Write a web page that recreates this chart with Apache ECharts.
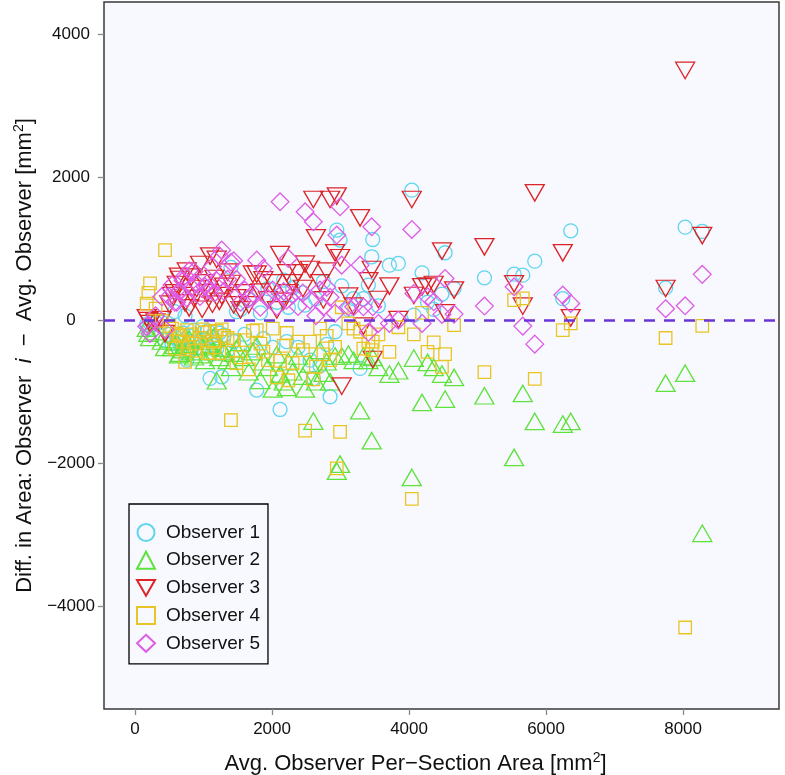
<!DOCTYPE html>
<html>
<head>
<meta charset="utf-8">
<script src="https://cdn.jsdelivr.net/npm/echarts@6/dist/echarts.min.js"></script>
<style>
html,body{margin:0;padding:0;background:#ffffff;}
#chart{width:785px;height:775px;}
</style>
</head>
<body>
<div id="chart"></div>
<script>
// Avg. observer per-section area (x) for each section
const sectionArea = [170,195,219,300,390,438,500,540,580,608,640,657,700,730,755,790,820,860,900,949,980,1020,1060,1095,1130,1160,1192,1230,1265,1300,1350,1400,1440,1480,1540,1600,1660,1720,1776,1830,1873,1940,2010,2070,2117,2170,2214,2238,2300,2380,2450,2482,2555,2603,2640,2700,2750,2798,2847,2920,2945,2993,3017,3114,3190,3285,3333,3406,3455,3470,3552,3713,3844,4040,4070,4190,4270,4360,4480,4526,4657,5100,5533,5660,5835,6244,6360,7745,8030,8280];

// Difference: observer i - average observer
const observer1 = [-60,-120,-40,-30,-30,-280,-200,-330,120,-250,-310,-300,-180,60,-560,-220,-420,-140,-300,-380,-90,-260,-150,-816,-230,-350,-400,-180,-793,-210,-430,737,-300,120,150,-200,300,-420,-979,100,-260,440,-380,250,-1250,560,-300,180,450,-380,380,210,-560,-820,300,-640,540,-340,-1072,-163,1259,1119,480,150,300,-676,300,490,886,1128,200,769,793,1818,70,662,250,150,364,942,443,592,643,629,825,300,1249,450,1300,1240];
const observer2 = [-150,-220,-280,-200,-330,-420,-310,-420,-390,-340,-520,-500,-450,-380,-330,-300,-480,-550,-260,-520,-410,-600,-330,-380,-480,-270,-886,-560,-430,-480,-600,-700,-500,-440,-350,-560,-760,-480,-400,-880,-620,-700,-1000,-520,-790,-900,-979,-620,-760,-540,-820,-1000,-650,-1450,-900,-460,-780,-620,-900,-540,-2150,-2052,-540,-513,-600,-1305,-540,-600,-1725,-560,-700,-793,-746,-2238,-569,-1189,-629,-700,-793,-1142,-839,-1096,-1958,-1063,-1455,-1492,-1455,-920,-780,-3020];
const observer3 = [70,30,-10,10,46,-150,260,380,420,536,650,606,380,280,722,210,640,340,480,816,190,560,420,933,260,620,886,300,380,510,710,550,250,350,180,420,250,680,680,430,600,320,560,180,955,300,700,420,560,700,480,820,746,1725,1189,560,320,722,1725,979,1772,910,-886,373,233,1468,-46,587,746,-513,326,513,46,1725,382,503,513,536,1003,140,457,1063,545,233,1818,979,70,480,3530,1220];
const observer4 = [230,382,513,160,-10,979,-80,-120,-400,-190,-220,-210,-300,-583,-140,-380,-200,-330,-430,-250,-130,-170,-460,-160,-300,-380,-150,-460,-130,-220,-250,-1400,-280,-600,-520,-280,-690,-150,-140,-330,-440,-560,-120,-800,-570,-360,-180,-841,-600,-300,-420,-1545,-300,-830,-650,-120,-480,-220,-560,-373,-2075,-1562,180,-46,-120,-163,-400,-300,-420,-300,-200,-443,-100,-2500,-200,102,-443,-312,-653,-475,-70,-727,280,303,-821,-140,-46,-250,-4300,-80];
const observer5 = [-90,-70,-186,60,326,-130,330,490,250,250,400,400,550,620,310,690,460,680,510,330,440,470,520,420,750,380,550,900,979,400,570,810,830,570,250,420,300,370,839,180,722,300,420,190,1655,400,280,863,350,190,380,1515,280,1375,61,420,186,460,320,97,1190,1585,769,186,186,769,186,-170,1305,186,-46,-46,0,1268,373,-46,326,256,80,583,84,196,466,-84,-336,350,233,160,200,640];

const seriesNames = ['Observer 1','Observer 2','Observer 3','Observer 4','Observer 5'];
const xTickValues = [0,2000,4000,6000,8000];
const yTickValues = [-4000,-2000,0,2000,4000];

const colors = ['#5FD5EE','#5EE23C','#DC2327','#E7C525','#DE5CE6'];
const symbols = ['circle','triangle','path://M0,0L20,0L10,17.32Z','rect','diamond'];
const sizes = [14,[19,16.5],[19,16.5],12.5,17.7];
const offsets = [[0,0],[0,-2.7],[0,2.7],[0,0],[0,0]];
const allValues = [observer1,observer2,observer3,observer4,observer5];
const FONT = '"Liberation Sans", Arial, Helvetica, sans-serif';

const chart = echarts.init(document.getElementById('chart'), null, {renderer:'canvas'});

const series = allValues.map((vals,k)=>({
  type:'scatter',
  name: seriesNames[k],
  symbol: symbols[k],
  symbolSize: sizes[k],
  symbolOffset: offsets[k],
  data: sectionArea.map((x,i)=>[x, vals[i]]),
  itemStyle:{color:'rgba(0,0,0,0)', borderColor: colors[k], borderWidth:1.3, opacity:1},
  emphasis:{disabled:true},
  silent:true,
  animation:false,
  z:2
}));
series.push({
  type:'scatter', name:'zero', data:[], silent:true, z:5, animation:false,
  markLine:{silent:true, symbol:['none','none'], label:{show:false}, animation:false,
    lineStyle:{color:'#6A35D8', type:[11,9], width:2.5, cap:'butt'},
    emphasis:{disabled:true},
    data:[{yAxis:0}]}
});

const titleRich = {
  t:{fontSize:22, color:'#111', fontFamily:FONT, lineHeight:26},
  i:{fontSize:22, color:'#111', fontFamily:FONT, fontStyle:'italic', lineHeight:26},
  s:{fontSize:14, color:'#111', fontFamily:FONT, verticalAlign:'top', lineHeight:15}
};

chart.setOption({
  backgroundColor:'#ffffff',
  animation:false,
  textStyle:{fontFamily:FONT},
  grid:{left:104, right:6, top:2, bottom:66, show:true, backgroundColor:'#F8F9FE', borderColor:'#3a3a3a', borderWidth:1.5, containLabel:false, outerBoundsMode:'none'},
  legend:{
    data: seriesNames,
    orient:'vertical', left:129, top:504,
    itemWidth:18, itemHeight:17, itemGap:8.7,
    padding:[19,8,11,7],
    borderColor:'#000', borderWidth:1.3, backgroundColor:'rgba(0,0,0,0)',
    textStyle:{fontSize:19, color:'#111', fontFamily:FONT, padding:[0,0,0,6]},
    selectedMode:false
  },
  xAxis:{
    type:'value', min:-453, max:9400,
    splitLine:{show:false},
    axisLine:{show:false, onZero:false},
    axisTick:{show:true, inside:false, length:6, customValues:xTickValues, lineStyle:{color:'#888', width:1.3}},
    axisLabel:{show:true, customValues:xTickValues, margin:12, fontSize:17, color:'#111', fontFamily:FONT,
      formatter:(v)=>String(v)},
    name:'{t|Avg. Observer Per\u2212Section Area [mm}{s|2}{t|]}',
    nameLocation:'middle', nameGap:42,
    nameTextStyle:{fontSize:22, color:'#111', fontFamily:FONT, padding:[0,52,0,0], rich:titleRich}
  },
  yAxis:{
    type:'value', min:-5440, max:4450,
    splitLine:{show:false},
    axisLine:{show:false, onZero:false},
    axisTick:{show:true, inside:false, length:6, customValues:yTickValues, lineStyle:{color:'#888', width:1.3}},
    axisLabel:{show:true, customValues:yTickValues, margin:33, align:'center', fontSize:17, color:'#111', fontFamily:FONT,
      formatter:(v)=> (v<0 ? '\u2212'+Math.abs(v) : String(v))},
    name:'{t|Diff. in Area: Observer  }{i|i}{t|  \u2212  Avg. Observer [mm}{s|2}{t|]}',
    nameLocation:'middle', nameGap:66, nameRotate:90,
    nameTextStyle:{fontSize:22, color:'#111', fontFamily:FONT, rich:titleRich}
  },
  series: series
});
</script>
</body>
</html>
